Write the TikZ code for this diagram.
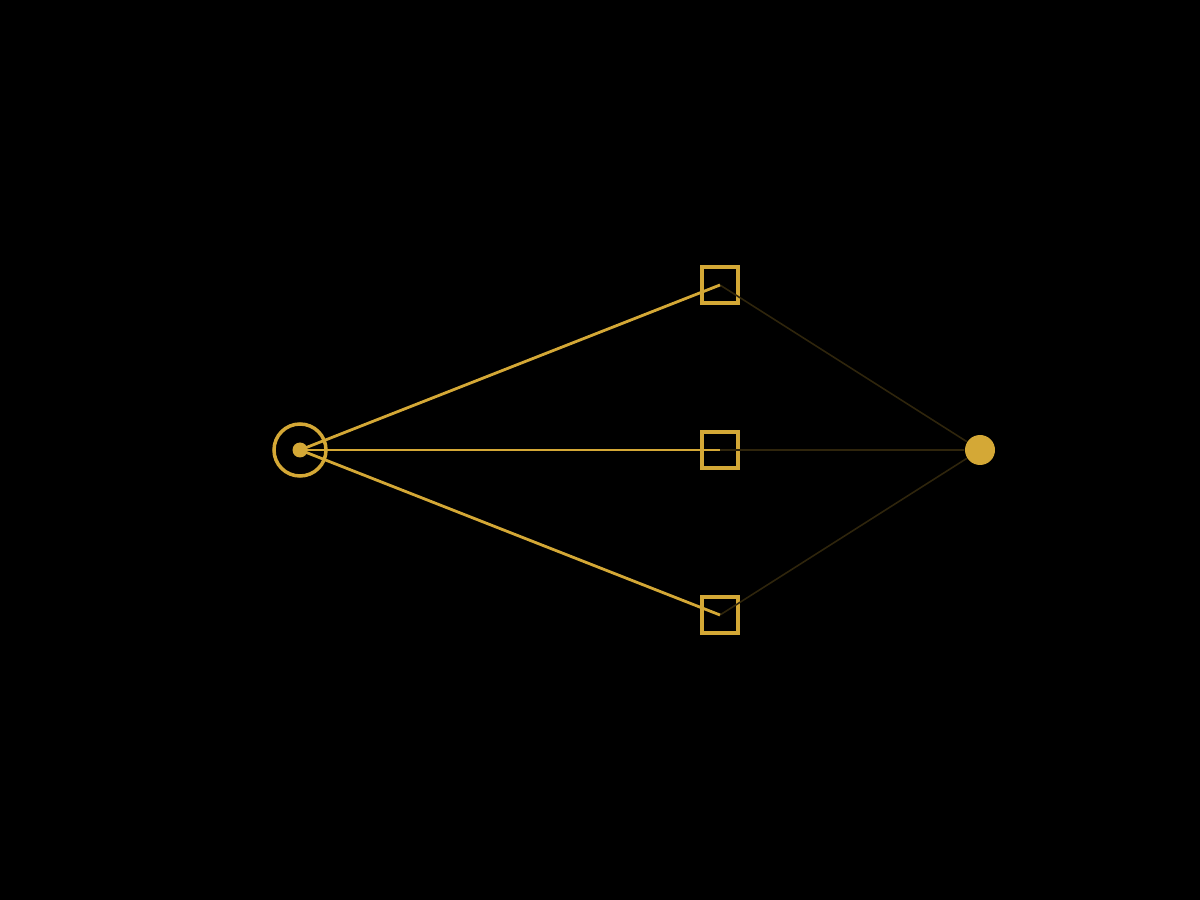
\documentclass[tikz,border=0pt]{standalone}
\usepackage{xcolor}
\definecolor{gold}{RGB}{212,168,54}
\begin{document}
\begin{tikzpicture}[
every edge/.style = {draw, gold, line width=0.8pt},
   src/.style = {circle, draw=gold, line width=1pt, minimum size=0.52cm, inner sep=0pt},
   dot/.style = {circle, fill=gold, minimum size=0.15cm, inner sep=0pt},
   box/.style = {rectangle, draw=gold, line width=1pt, minimum size=0.36cm, inner sep=0pt},
  sink/.style = {circle, fill=gold, minimum size=0.30cm, inner sep=0pt},
   dim/.style = {draw=gold!22!black, line width=0.45pt}
                    ]
\fill[black] (0,0) rectangle (12,9);
\useasboundingbox (0,0) rectangle (12,9);

\node (s) [src] at (3,4.5) {};
\node (t) [sink] at (9.8,4.5) {};
\node (b1) [box] at (7.2,6.15) {};
\node (b2) [box] at (7.2,4.5) {};
\node (b3) [box] at (7.2,2.85) {};

\draw[dim] (b1.center) -- (t)
           (b2.center) -- (t)
           (b3.center) -- (t);
\draw   (s.center) edge (b1.center)
        (s.center) edge (b2.center)
        (s.center) edge (b3.center);
\node (c) [dot] at (s) {};
\end{tikzpicture}
\end{document}
